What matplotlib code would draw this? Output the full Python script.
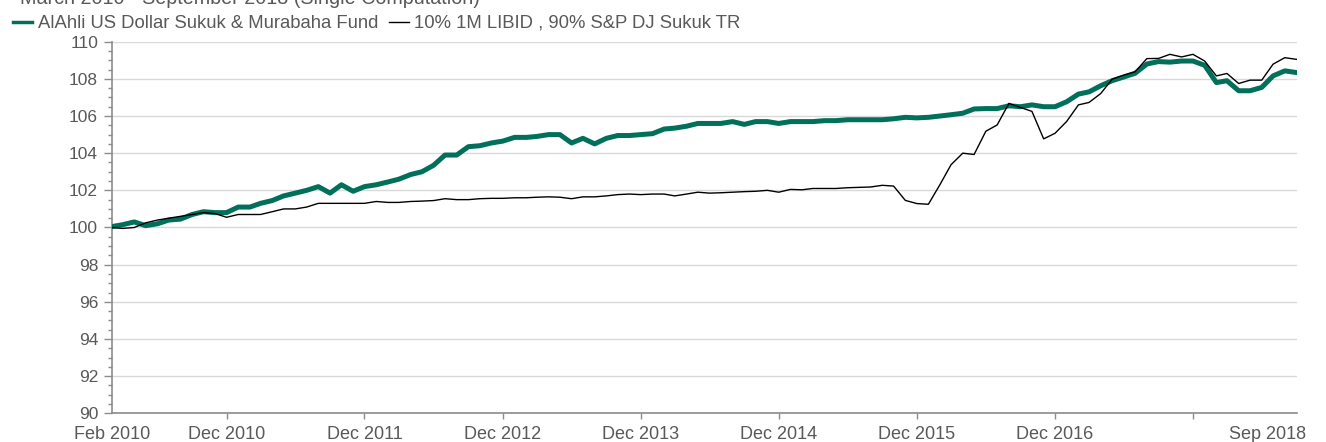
import numpy as np
import pandas as pd
import matplotlib
matplotlib.use("Agg")
import matplotlib.pyplot as plt
import matplotlib.transforms as mtransforms
from matplotlib.lines import Line2D

plt.rcParams['font.family'] = ['Liberation Sans', 'DejaVu Sans']

# monthly index values, Feb 2010 .. Sep 2018
months = pd.date_range('2010-02-01', periods=104, freq='MS')

fund = [100.05, 100.15, 100.3, 100.1, 100.2, 100.4, 100.45, 100.7, 100.85, 100.8,
        100.8, 101.1, 101.1, 101.3, 101.45, 101.7, 101.85, 102.0, 102.2, 101.85,
        102.3, 101.95, 102.2, 102.3, 102.45, 102.6, 102.85, 103.0, 103.35, 103.9,
        103.9, 104.35, 104.4, 104.55, 104.65, 104.85, 104.85, 104.9, 105.0, 105.0,
        104.55, 104.8, 104.5, 104.8, 104.95, 104.95, 105.0, 105.05, 105.3, 105.35,
        105.45, 105.6, 105.6, 105.6, 105.7, 105.55, 105.7, 105.7, 105.6, 105.7,
        105.7, 105.7, 105.75, 105.75, 105.8, 105.8, 105.8, 105.8, 105.85, 105.93,
        105.9, 105.93, 106.0, 106.07, 106.15, 106.38, 106.4, 106.4, 106.55, 106.5,
        106.6, 106.5, 106.5, 106.77, 107.18, 107.3, 107.63, 107.9, 108.1, 108.3,
        108.8, 108.93, 108.9, 108.96, 108.96, 108.73, 107.8, 107.9, 107.36, 107.36,
        107.54, 108.16, 108.43, 108.34]

benchmark = [100.0, 99.95, 100.0, 100.25, 100.4, 100.5, 100.6, 100.7, 100.8, 100.75,
             100.55, 100.7, 100.7, 100.7, 100.85, 101.0, 101.0, 101.1, 101.3, 101.3,
             101.3, 101.3, 101.3, 101.4, 101.35, 101.35, 101.4, 101.42, 101.45, 101.55,
             101.5, 101.5, 101.55, 101.57, 101.57, 101.6, 101.6, 101.63, 101.65, 101.63,
             101.55, 101.65, 101.65, 101.7, 101.77, 101.8, 101.77, 101.8, 101.8, 101.7,
             101.8, 101.9, 101.85, 101.87, 101.9, 101.93, 101.95, 102.0, 101.9, 102.05,
             102.03, 102.1, 102.1, 102.1, 102.14, 102.16, 102.18, 102.27, 102.23, 101.46,
             101.29, 101.25, 102.32, 103.38, 104.0, 103.93, 105.18, 105.52, 106.68, 106.46,
             106.25, 104.77, 105.07, 105.71, 106.6, 106.73, 107.21, 107.98, 108.2, 108.38,
             109.09, 109.1, 109.32, 109.18, 109.32, 108.96, 108.16, 108.29, 107.75, 107.93,
             107.93, 108.79, 109.14, 109.05]

fund_name = 'AlAhli US Dollar Sukuk & Murabaha Fund'
bench_name = '10% 1M LIBID , 90% S&P DJ Sukuk TR'
title = 'March 2010 - September 2018 (Single Computation)'

dec_ticks = pd.to_datetime(['2010-12-01', '2011-12-01', '2012-12-01', '2013-12-01',
                            '2014-12-01', '2015-12-01', '2016-12-01', '2017-12-01'])
dec_labels = ['Dec 2010', 'Dec 2011', 'Dec 2012', 'Dec 2013', 'Dec 2014',
              'Dec 2015', 'Dec 2016', '']
end_labels = ['Feb 2010', 'Sep 2018']

green = '#00705a'
txt = '#595959'
axis_c = '#8c8c8c'

fig = plt.figure(figsize=(13.26, 4.42), dpi=100)
ax = fig.add_axes([112 / 1326, 1 - 413.3 / 442, (1296.5 - 112) / 1326, (413.3 - 41.7) / 442])

ax.plot(months, fund, color=green, lw=3.6, solid_joinstyle='round', zorder=3)
ax.plot(months, benchmark, color='black', lw=1.0, zorder=4)

ax.set_xlim(months[0], months[-1])
ax.set_ylim(90, 110)
ax.set_yticks(np.arange(90, 111, 2))
ax.set_yticks(np.arange(90, 110.1, 0.5), minor=True)
ax.grid(axis='y', which='major', color='#d9d9d9', lw=1.0)
ax.set_axisbelow(True)

ax.set_xticks(dec_ticks)
ax.set_xticklabels(dec_labels)
ax.set_xticks([months[0], months[-1]], minor=True)
ax.set_xticklabels(end_labels, minor=True)
ax.tick_params(axis='x', which='major', length=4, width=1, color=axis_c, pad=5)
ax.tick_params(axis='x', which='minor', length=0, pad=9)
ax.tick_params(axis='x', which='both', labelsize=13, labelcolor=txt)
ax.tick_params(axis='y', which='major', length=6, width=1, color=axis_c,
               labelsize=12.5, labelcolor=txt, pad=4)
ax.tick_params(axis='y', which='minor', length=3, width=1, color=axis_c)

# the last date label sits left of the axis end, as in the original
lab = ax.xaxis.get_minorticklabels()[1]
lab.set_horizontalalignment('right')
lab.set_transform(lab.get_transform() + mtransforms.ScaledTranslation(10 / 100, 0, fig.dpi_scale_trans))

for s in ['top', 'right']:
    ax.spines[s].set_visible(False)
for s in ['left', 'bottom']:
    ax.spines[s].set_color(axis_c)
    ax.spines[s].set_linewidth(1.2)

fig.text(20 / 1326, 1 - 4 / 442, title, fontsize=14.2, color=txt, va='baseline')

handles = [Line2D([], [], color=green, lw=2.5), Line2D([], [], color='black', lw=1.0)]
fig.legend(handles, [fund_name, bench_name], loc='upper left',
           bbox_to_anchor=(13 / 1326, 1 - 15 / 442), ncol=2, frameon=False,
           fontsize=13.3, labelcolor=txt, handlelength=1.05, handletextpad=0.3,
           columnspacing=0.6, borderpad=0, borderaxespad=0)

fig.savefig('out.png', dpi=100)
